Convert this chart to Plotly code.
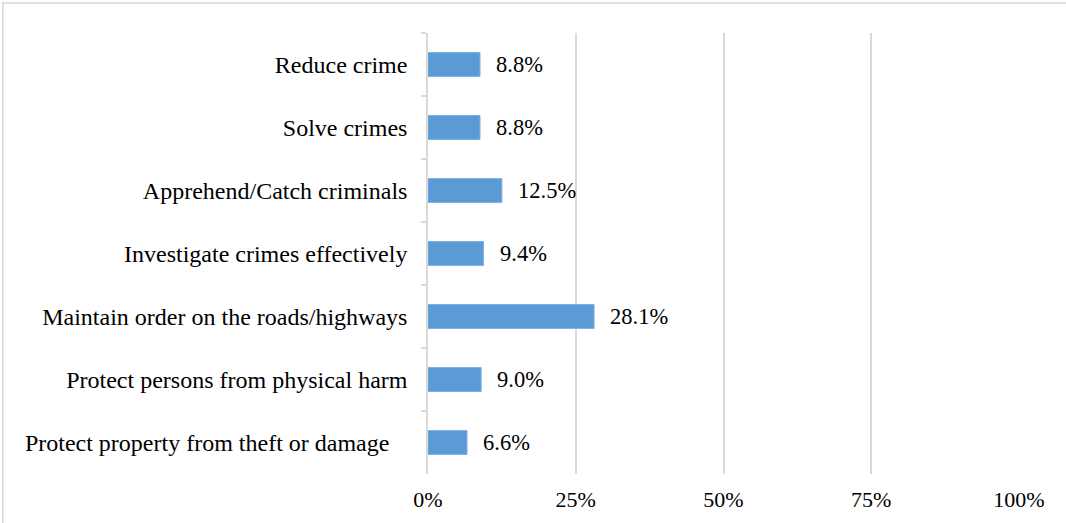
import plotly.graph_objects as go

# Roles listed top to bottom
categories = [
    "Reduce crime",
    "Solve crimes",
    "Apprehend/Catch criminals",
    "Investigate crimes effectively",
    "Maintain order on the roads/highways",
    "Protect persons from physical harm",
    "Protect property from theft or damage\u00a0\u00a0\u00a0",
]
values = [8.8, 8.8, 12.5, 9.4, 28.1, 9.0, 6.6]
x_ticks = [0, 25, 50, 75, 100]
x_tick_labels = ["0%", "25%", "50%", "75%", "100%"]

FONT = "Liberation Serif, Times New Roman, serif"
GRID = "#d9d9d9"

fig = go.Figure(
    go.Bar(
        y=categories,
        x=values,
        orientation="h",
        marker=dict(color="#5b9bd5", line=dict(color="#7fb2e0", width=1)),
        width=0.38,
        hoverinfo="skip",
    )
)

# Value labels beside each bar
for cat, v in zip(categories, values):
    fig.add_annotation(
        x=v, y=cat, text=f"{v:.1f}%", showarrow=False,
        xanchor="left", yanchor="middle", xshift=14,
        font=dict(family=FONT, size=22.5, color="#000000"),
    )

# Light outer frame of the chart area
fig.add_shape(
    type="rect", xref="paper", yref="paper",
    x0=-0.7195, y0=-0.25, x1=1.3, y1=1.068,
    line=dict(color=GRID, width=1.5), fillcolor="rgba(0,0,0,0)", layer="below",
)

fig.update_layout(
    width=1066, height=523,
    margin=dict(l=428, r=47, t=33, b=49),
    paper_bgcolor="white", plot_bgcolor="white",
    showlegend=False,
    font=dict(family=FONT, color="#000000"),
    xaxis=dict(
        range=[0, 100], tickvals=x_ticks, ticktext=x_tick_labels,
        showgrid=True, gridcolor=GRID, gridwidth=1.5,
        zeroline=False, showline=False, ticks="",
        tickfont=dict(family=FONT, size=22, color="#000000"),
        ticklabelstandoff=10,
        fixedrange=True,
    ),
    yaxis=dict(
        autorange="reversed", type="category",
        showgrid=False, zeroline=False,
        showline=True, linecolor=GRID, linewidth=1.5,
        ticks="outside", ticklen=5, tickcolor=GRID, tickwidth=1.5,
        tickson="boundaries",
        tickfont=dict(family=FONT, size=24, color="#000000"),
        ticklabelstandoff=14,
        fixedrange=True,
    ),
)

fig.write_html("out.html")
